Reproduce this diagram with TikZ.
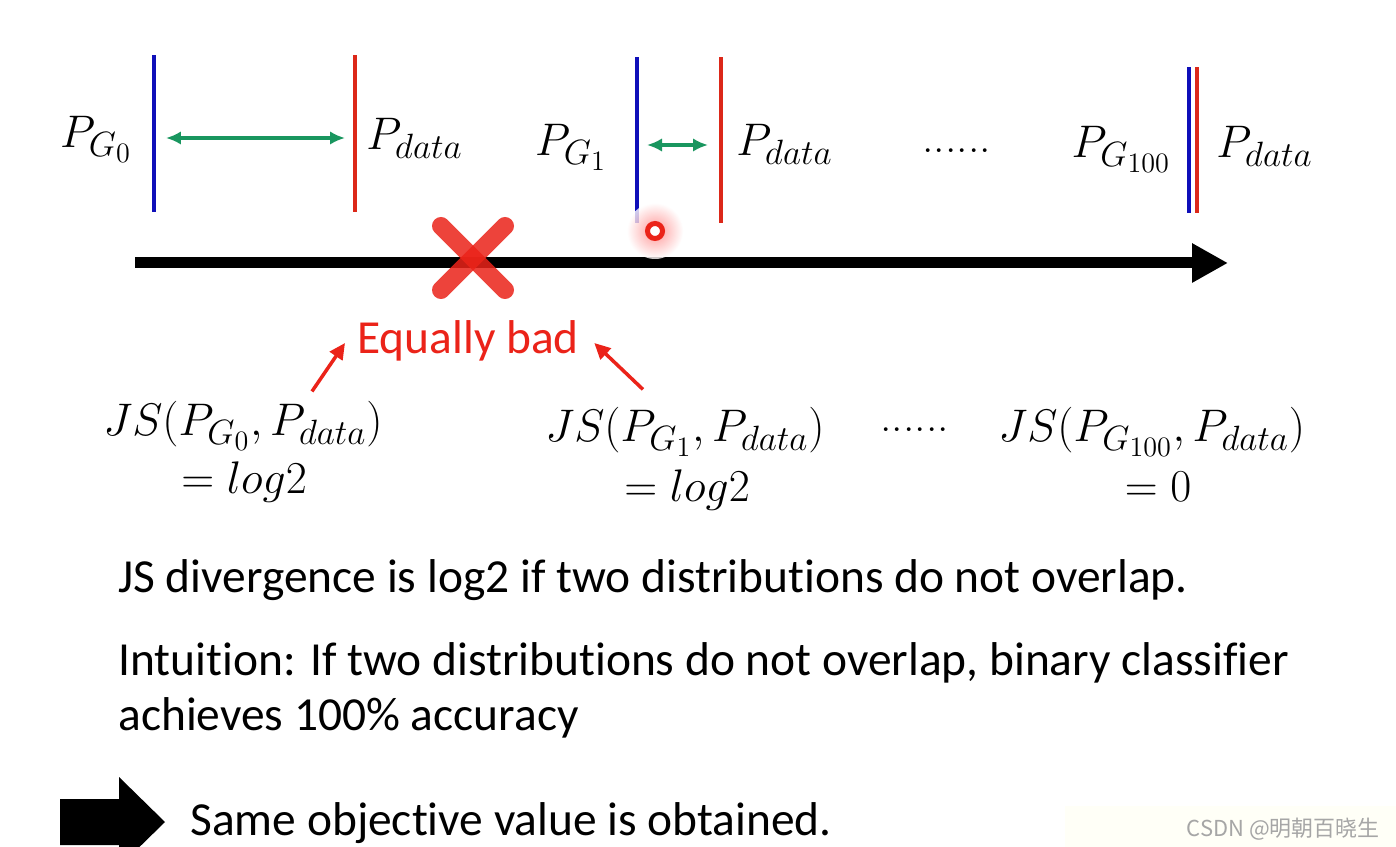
\RequirePackage{fix-cm}
\documentclass[tikz,border=0pt]{standalone}
\usepackage{fontspec}
\newfontfamily\calibri[Ligatures=NoCommon]{Carlito}
\newfontfamily\cjkfont{Noto Sans CJK SC}
\DeclareMathSizes{26}{26}{20}{16}
\usepackage{tikz}
\usetikzlibrary{arrows.meta,positioning,calc}
\definecolor{pblue}{RGB}{15,15,185}
\definecolor{pred}{RGB}{220,40,25}
\definecolor{gapgreen}{RGB}{25,150,95}
\definecolor{badred}{RGB}{235,35,25}
\tikzset{
  gbar/.style={rectangle, fill=pblue, minimum width=0.07cm, inner sep=0pt},
  dbar/.style={rectangle, fill=pred, minimum width=0.07cm, inner sep=0pt},
  gaparrow/.style={{Latex[length=0.3cm,width=0.27cm]}-{Latex[length=0.3cm,width=0.27cm]},
    draw=gapgreen, line width=0.065cm},
  mlabel/.style={inner sep=0pt, font=\fontsize{26}{31}\selectfont},
  bodytext/.style={inner sep=0pt, anchor=base west, font=\calibri\fontsize{27}{32}\selectfont},
  badtext/.style={bodytext, text=badred},
  badarrow/.style={-{Triangle[length=0.32cm,width=0.3cm]}, draw=badred, line width=0.07cm},
  axisarrow/.style={-{Triangle[length=0.72cm,width=0.74cm]}, line width=0.22cm},
  crossbar/.style={draw=badred, line width=0.36cm, line cap=round, opacity=0.85},
}

\begin{document}
\begin{tikzpicture}[x=0.02cm, y=-0.02cm]
  \path[use as bounding box, clip] (0,0) rectangle (1396,847);
  \fill[white] (0,0) rectangle (1396,847);

  % distributions
  \node (g0) [gbar, minimum height=3.14cm] at (154,133.5) {};
  \node (d0) [dbar, minimum height=3.14cm] at (355,133.5) {};
  \node (g1) [gbar, minimum height=3.32cm] at (637,140) {};
  \node (d1) [dbar, minimum height=3.32cm] at (721,140) {};
  \node (g2) [gbar, minimum height=2.92cm] at (1189,140) {};
  \node (d2) [dbar, minimum height=2.92cm] at (1197,140) {};
  \draw[gaparrow, shorten <=0.24cm, shorten >=0.2cm] ([yshift=-0.09cm]g0.center) -- ([yshift=-0.09cm]d0.center);
  \draw[gaparrow, shorten <=0.2cm, shorten >=0.26cm] ([yshift=-0.1cm]g1.center) -- ([yshift=-0.1cm]d1.center);

  \node (pg0) [mlabel, anchor=base east] at (132,148) {$P_{G_0}$};
  \node (pd0) [mlabel, anchor=base west] at (366,150) {$P_{data}$};
  \node (pg1) [mlabel, anchor=base east] at (607,156) {$P_{G_1}$};
  \node (pd1) [mlabel, anchor=base west] at (736,156) {$P_{data}$};
  \node (dots0) [mlabel, anchor=base west] at (922,153) {......};
  \node (pg2) [mlabel, anchor=base east] at (1171,158) {$P_{G_{100}}$};
  \node (pd2) [mlabel, anchor=base west] at (1216,158) {$P_{data}$};

  % axis
  \coordinate (axs) at (135,263);
  \coordinate (axe) at (1228,263);
  \draw[axisarrow] (axs) -- (axe);

  % cross and pointer
  \draw[crossbar] (441,226) -- (505,290);
  \draw[crossbar] (505,226) -- (441,290);
  \shade[inner color=red!50, outer color=white, opacity=0.8] (655,231) circle (0.56cm);
  \draw[badred, line width=0.1cm, fill=white] (655,231) circle (0.15cm);

  % JS values
  \node (bad) [badtext] at (357,354) {Equally bad};
  \node (js0) [mlabel, anchor=base west] at (103,436) {$JS\bigl(P_{G_0},P_{data}\bigr)$};
  \node (eq0) [mlabel, anchor=base] at (244,494) {$=log2$};
  \node (js1) [mlabel, anchor=base west] at (545,442) {$JS\bigl(P_{G_1},P_{data}\bigr)$};
  \node (eq1) [mlabel, anchor=base] at (687,501) {$=log2$};
  \node (dots1) [mlabel, anchor=base west] at (880,432) {......};
  \node (js2) [mlabel, anchor=base west] at (998,442) {$JS\bigl(P_{G_{100}},P_{data}\bigr)$};
  \node (eq2) [mlabel, anchor=base] at (1158,501) {$=0$};
  \draw[badarrow] ([xshift=4.18cm,yshift=0.2cm]js0.north west) -- ([xshift=-0.24cm,yshift=0.38cm]bad.south west);
  \draw[badarrow] ([xshift=1.96cm,yshift=0.36cm]js1.north west) -- ([xshift=0.3cm,yshift=0.38cm]bad.south east);

  % text
  \node (line1) [bodytext] at (118,592) {JS divergence is log2 if two distributions do not overlap.};
  \node (line2) [bodytext] at (118,675) {Intuition: If two distributions do not overlap, binary classifier};
  \node (line3) [bodytext] at (118,730) {achieves 100\% accuracy};
  \fill (60,799) -- (119,799) -- (119,777) -- (165,822) -- (119,867) -- (119,845) -- (60,845) -- cycle;
  \node (line4) [bodytext] at (190,835) {Same objective value is obtained.};

  % watermark
  \fill[yellow!3] (1065,806) rectangle (1396,847);
  \node (wm) [anchor=base east, inner sep=0pt, text=gray!70, font=\cjkfont\fontsize{12.5}{14}\selectfont] at (1380,836) {CSDN @明朝百晓生};
\end{tikzpicture}
\end{document}
